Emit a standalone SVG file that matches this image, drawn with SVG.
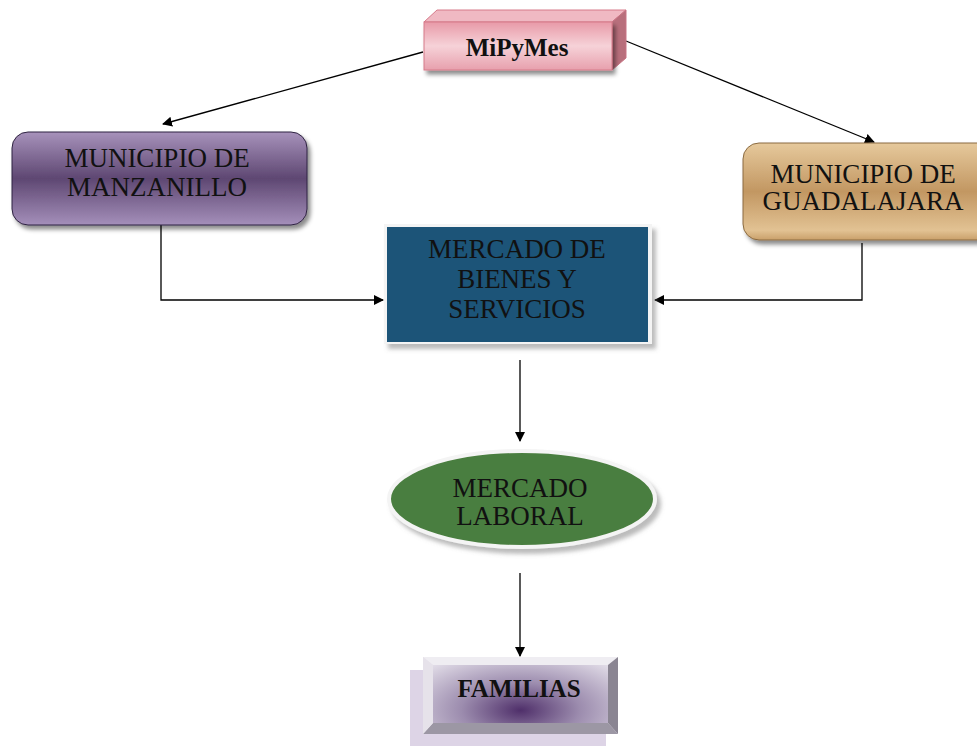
<svg xmlns="http://www.w3.org/2000/svg" width="977" height="746" viewBox="0 0 977 746">
<style>
.t{font-family:"Liberation Serif","Times New Roman",serif;font-size:27px;fill:#111;text-anchor:middle}
.b{font-weight:bold;font-size:25px}
.c{fill:none;stroke:#000;stroke-width:1.3}
</style>
<defs>
<marker id="ah" viewBox="0 0 10 10" refX="9" refY="5" markerWidth="10" markerHeight="10" markerUnits="userSpaceOnUse" orient="auto"><path d="M0,0 L10,5 L0,10 Z" fill="#000"/></marker>
<linearGradient id="gPink" x1="0" y1="0" x2="0" y2="1"><stop offset="0" stop-color="#e89aa8"/><stop offset="0.5" stop-color="#f6d2d8"/><stop offset="1" stop-color="#e7a0ad"/></linearGradient>
<linearGradient id="gPurp" x1="0" y1="0" x2="0" y2="1"><stop offset="0" stop-color="#a792bb"/><stop offset="0.5" stop-color="#5e4772"/><stop offset="1" stop-color="#a48fba"/></linearGradient>
<linearGradient id="gGold" x1="0" y1="0" x2="0" y2="1"><stop offset="0" stop-color="#e6c99c"/><stop offset="0.5" stop-color="#c29762"/><stop offset="0.9" stop-color="#e2c293"/><stop offset="1" stop-color="#c9a06a"/></linearGradient>
<radialGradient id="gFam" cx="0.5" cy="0.78" r="0.75" gradientTransform="translate(0.5 0.78) scale(1 1.4) translate(-0.5 -0.78)"><stop offset="0" stop-color="#4f2f6a"/><stop offset="0.45" stop-color="#9c8cae"/><stop offset="1" stop-color="#e2dde8"/></radialGradient>
<filter id="sh" x="-10%" y="-10%" width="130%" height="140%"><feDropShadow dx="3" dy="4" stdDeviation="2" flood-color="#000" flood-opacity="0.45"/></filter>
<filter id="sh2" x="-10%" y="-10%" width="130%" height="140%"><feDropShadow dx="4" dy="5" stdDeviation="2" flood-color="#777" flood-opacity="0.5"/></filter>
</defs>
<g id="connectors">
<line class="c" x1="423" y1="52" x2="163" y2="124" marker-end="url(#ah)"/>
<line class="c" x1="626" y1="41" x2="874" y2="142" marker-end="url(#ah)"/>
<polyline class="c" points="161,225 161,300 383,300" marker-end="url(#ah)"/>
<polyline class="c" points="862,243 862,300 655,300" marker-end="url(#ah)"/>
<line class="c" x1="520" y1="360" x2="520" y2="441" marker-end="url(#ah)"/>
<line class="c" x1="520" y1="573" x2="520" y2="656" marker-end="url(#ah)"/>
</g>
<g id="mipymes">
<polygon points="424,22 437,10 626,10 612,22" fill="#f0b9c3" stroke="#d67a8a" stroke-width="1"/>
<polygon points="612,22 626,10 626,58 612,70" fill="#b86f7c" stroke="#c97585" stroke-width="1"/>
<rect x="424" y="22" width="188" height="48" fill="url(#gPink)" stroke="#d67a8a" stroke-width="1" filter="url(#sh)"/>
<text class="t b" x="517" y="56">MiPyMes</text>
</g>
<g id="manzanillo">
<rect x="12" y="132" width="295" height="93" rx="16" fill="url(#gPurp)" stroke="#2e2240" stroke-width="1" filter="url(#sh)"/>
<text class="t" x="157" y="167">MUNICIPIO DE</text>
<text class="t" x="157" y="196">MANZANILLO</text>
</g>
<g id="guadalajara">
<rect x="743" y="143" width="250" height="97" rx="16" fill="url(#gGold)" stroke="#8a6a40" stroke-width="1" filter="url(#sh)"/>
<text class="t" x="863" y="183">MUNICIPIO DE</text>
<text class="t" x="863" y="210">GUADALAJARA</text>
</g>
<g id="mercado-bienes">
<rect x="384" y="224" width="268" height="120" fill="#f4f4f4" filter="url(#sh2)"/>
<rect x="387" y="227" width="261" height="115" fill="#1c5478"/>
<text class="t" x="517" y="258">MERCADO DE</text>
<text class="t" x="517" y="288">BIENES Y</text>
<text class="t" x="517" y="318">SERVICIOS</text>
</g>
<g id="mercado-laboral">
<ellipse cx="522" cy="499" rx="133" ry="48" fill="#4a7e3f" stroke="#f4f4f4" stroke-width="4" filter="url(#sh2)"/>
<text class="t" x="520" y="497">MERCADO</text>
<text class="t" x="520" y="525">LABORAL</text>
</g>
<g id="familias">
<rect x="410" y="670" width="196" height="76" fill="#ddd4e6"/>
<rect x="423" y="657" width="195" height="77" fill="#e8e4ec"/>
<polygon points="423,657 618,657 608,665 433,665" fill="#efedf2"/>
<polygon points="618,657 618,734 608,723 608,665" fill="#8a8592"/>
<polygon points="423,734 618,734 608,723 433,723" fill="#9c97a4"/>
<polygon points="423,657 433,665 433,723 423,734" fill="#e6e2ea"/>
<rect x="433" y="665" width="175" height="58" fill="url(#gFam)"/>
<text class="t b" x="519" y="697">FAMILIAS</text>
</g>
</svg>
